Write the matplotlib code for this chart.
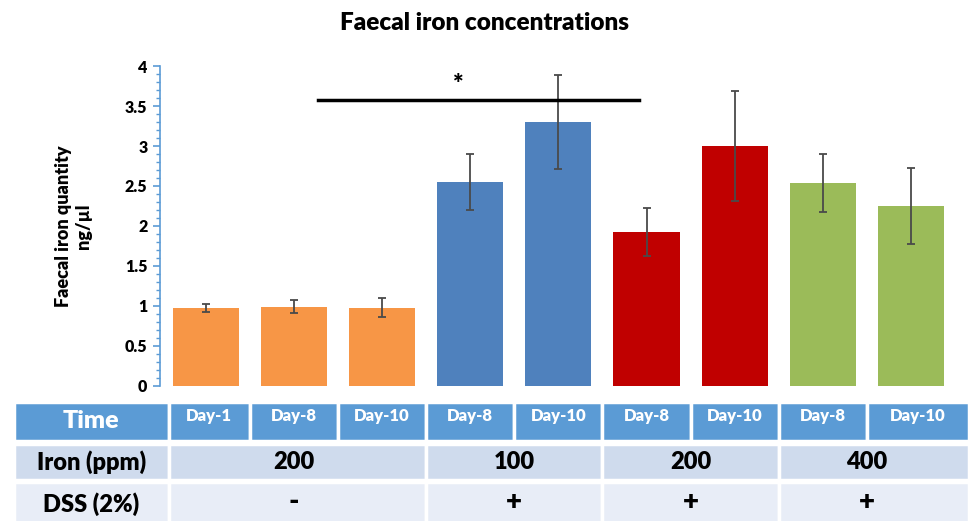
import matplotlib
matplotlib.use("Agg")
import matplotlib.pyplot as plt
from matplotlib.patches import Rectangle
from matplotlib.transforms import blended_transform_factory
from matplotlib.ticker import MultipleLocator, FuncFormatter

plt.rcParams["font.family"] = ["Lato", "DejaVu Sans"]

# ── Données ────────────────────────────────────────────────────────────────
days = ["Day-1", "Day-8", "Day-10", "Day-8", "Day-10", "Day-8", "Day-10", "Day-8", "Day-10"]
values = [0.98, 0.99, 0.98, 2.55, 3.30, 1.93, 3.00, 2.54, 2.25]
errors = [0.05, 0.08, 0.12, 0.35, 0.59, 0.30, 0.69, 0.36, 0.48]
group_sizes = [3, 2, 2, 2]
group_colors = ["#f79646", "#4f81bd", "#c00000", "#9bbb59"]
iron_ppm = ["200", "100", "200", "400"]
dss = ["-", "+", "+", "+"]

# barre de significativité : de / à (unités catégorie), hauteur, étiquette
sig_x = (1.27, 4.91)
sig_y = 3.58
sig_label = "*"

BOLD = "heavy"

# ── Figure ─────────────────────────────────────────────────────────────────
W, H = 969, 521
fig = plt.figure(figsize=(W / 100, H / 100), dpi=100)
ax = fig.add_axes([160 / W, (H - 386) / H, (955 - 160) / W, (386 - 66) / H])

colors = []
for size, col in zip(group_sizes, group_colors):
    colors += [col] * size

x = list(range(len(values)))
ax.bar(x, values, width=0.75, color=colors, edgecolor="none", zorder=2)
ax.errorbar(x, values, yerr=errors, fmt="none", ecolor="#4a4a4a",
            elinewidth=1.3, capsize=3, capthick=1.3, zorder=3)

ax.set_xlim(-0.52, 8.5)
ax.set_ylim(0, 4)
ax.yaxis.set_major_locator(MultipleLocator(0.5))
ax.yaxis.set_minor_locator(MultipleLocator(0.1))
ax.yaxis.set_major_formatter(FuncFormatter(lambda v, p: f"{v:g}"))
for s in ["top", "right", "bottom"]:
    ax.spines[s].set_visible(False)
ax.spines["left"].set_color("#5b9bd5")
ax.spines["left"].set_linewidth(1.2)
ax.tick_params(axis="y", which="major", color="#5b9bd5", length=5, width=1.2,
               labelsize=11.5, pad=4)
ax.tick_params(axis="y", which="minor", color="#5b9bd5", length=3, width=1)
for lab in ax.get_yticklabels():
    lab.set_fontweight(BOLD)
ax.set_xticks([])
ax.set_ylabel("Faecal iron quantity\nng/µl", fontsize=13, fontweight=BOLD, labelpad=24)

# ligne de significativité
ax.plot(sig_x, [sig_y, sig_y], color="black", lw=2.5, zorder=4)
ax.text(sum(sig_x) / 2 - 0.23, sig_y + 0.2, sig_label, ha="center", va="center",
        fontsize=18, fontweight=BOLD)

fig.text(0.5, 1 - 23 / H, "Faecal iron concentrations", ha="center", va="center",
         fontsize=17.5, fontweight=BOLD)

# ── Tableau sous le graphe ─────────────────────────────────────────────────
trans = blended_transform_factory(ax.transData, fig.transFigure)
inv = ax.transData.inverted()
x_tab_left = inv.transform(fig.transFigure.transform((14 / W, 0)))[0]
x_tab_right = inv.transform(fig.transFigure.transform((1.0, 0)))[0]
x_first = -0.42

rows = [((H - 441) / H, (H - 402) / H, "#5b9bd5"),
        ((H - 480) / H, (H - 444) / H, "#cfdbed"),
        (-0.01, (H - 482) / H, "#e8edf7")]


def cell(x0, x1, row, text="", size=17, color="black", dy=0.0):
    y0, y1, fc = rows[row]
    ax.add_patch(Rectangle((x0, y0), x1 - x0, y1 - y0, transform=trans,
                           facecolor=fc, edgecolor="white", lw=2.5, clip_on=False))
    if text:
        ax.text((x0 + x1) / 2, (y0 + y1) / 2 + dy, text, transform=trans, ha="center",
                va="center", fontsize=size, fontweight=BOLD, color=color, clip_on=False)


cell(x_tab_left, x_first, 0, "Time", 18, "white")
cell(x_tab_left, x_first, 1, "Iron (ppm)", 17)
cell(x_tab_left, x_first, 2, "DSS (2%)", 17)

for i, d in enumerate(days):
    x0 = x_first if i == 0 else i - 0.5
    x1 = x_tab_right if i == len(days) - 1 else i + 0.5
    cell(x0, x1, 0, d, 12, "white", dy=6 / H)

start = 0
for size, iron, ds in zip(group_sizes, iron_ppm, dss):
    x0 = x_first if start == 0 else start - 0.5
    end = start + size - 1
    x1 = x_tab_right if end == len(days) - 1 else end + 0.5
    mid = (start + end) / 2
    cell(x0, x1, 1)
    cell(x0, x1, 2)
    y0, y1, _ = rows[1]
    ax.text(mid, (y0 + y1) / 2, iron, transform=trans, ha="center", va="center",
            fontsize=17, fontweight=BOLD, clip_on=False)
    y0, y1, _ = rows[2]
    ax.text(mid, (y0 + y1) / 2 + 2 / H, ds, transform=trans, ha="center", va="center",
            fontsize=20, fontweight=BOLD, clip_on=False)
    start += size

fig.savefig("out.png", dpi=100)
